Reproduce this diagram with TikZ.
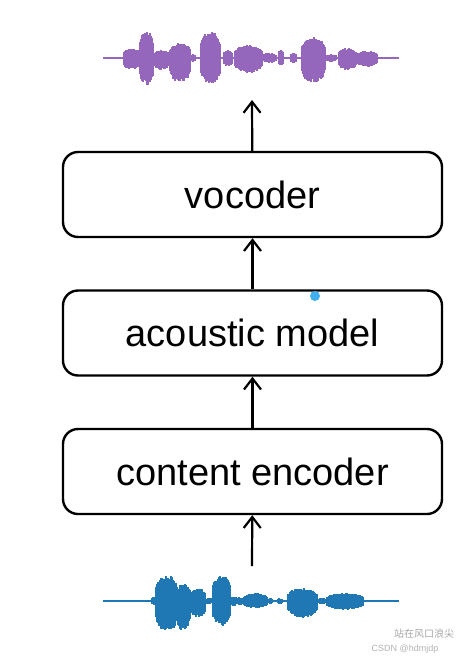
\documentclass[tikz,border=0pt]{standalone}
\usepackage{fontspec}
\setmainfont{Liberation Sans}
\newfontfamily\cjkfont{Noto Sans CJK SC}
\usetikzlibrary{arrows.meta}
\definecolor{wavepurple}{RGB}{148,103,189}
\definecolor{waveblue}{RGB}{31,119,180}
\definecolor{dotblue}{RGB}{64,176,240}
\tikzset{
  block/.style={draw=black, line width=2.4pt, rounded corners=15pt,
    minimum width=379pt, minimum height=85pt, inner sep=0pt,
    font=\fontsize{38}{44}\selectfont},
  flow/.style={line width=2.2pt,
    -{Straight Barb[length=11pt,width=17pt,line width=2.2pt]}},
}
% waveform: colour, baseline, bursts a/b/up/down
\newcommand\drawwave[3]{%
  \draw[#1, line width=1.6pt] (103,#2) -- (399,#2);
  \foreach \a/\b/\up/\dn in {#3} {
    \foreach \x in {\a,...,\b} {
      \pgfmathsetmacro\s{pow(abs(sin(180*(\x-\a)/(\b-\a))),0.25)}
      \pgfmathsetmacro\hu{\up*\s*(0.82+0.18*rnd)}
      \pgfmathsetmacro\hd{\dn*\s*(0.82+0.18*rnd)}
      \draw[#1, line width=1.8pt] (\x,#2-\hu) -- (\x,#2+\hd);
    }
  }%
}
\begin{document}
\begin{tikzpicture}[x=1pt,y=-1pt]
\useasboundingbox (0,0) rectangle (474,662);
\pgfmathsetseed{7}
% output and input speech
\drawwave{wavepurple}{58}{123/140/10/12, 139/154/27/27, 153/170/8/12,
  169/191/15/25, 191/196/4/4, 200/221/27/26, 223/233/8/8, 234/263/13/15,
  262/277/5/5, 278/284/8/8, 290/297/5/5, 301/326/21/25, 325/337/4/4,
  338/357/10/12, 356/378/7/9}
\drawwave{waveblue}{601}{151/158/4/4, 155/178/26/32, 176/191/17/31,
  190/206/13/17, 205/213/3/3, 212/231/26/25, 230/237/5/5, 237/243/4/4,
  243/268/8/7, 268/273/3/3, 277/283/3/3, 287/318/13/17, 318/326/3/3,
  326/364/8/9}
% blocks
\node[block] (voc) at (252.5,194.5) {vocoder};
\node[block] (acm) at (252.5,333) {acoustic model};
\node[block] (cenc) at (252.5,471.5) {content encoder};
\coordinate (wavetop) at (252,100);
\coordinate (wavebot) at (252,566);
\draw[flow] (wavebot) -- (cenc);
\draw[flow] (cenc) -- (acm);
\draw[flow] (acm) -- (voc);
\draw[flow] (voc) -- (wavetop);
\fill[dotblue] (315,296) circle (5);
% watermark
\node[text=black!35, font=\cjkfont\fontsize{10}{11}\selectfont] (wmcn) at (424,634) {站在风口浪尖};
\node[text=black!30, font=\fontsize{9}{10}\selectfont] (wmen) at (405,649) {CSDN @hdmjdp};
\end{tikzpicture}
\end{document}
